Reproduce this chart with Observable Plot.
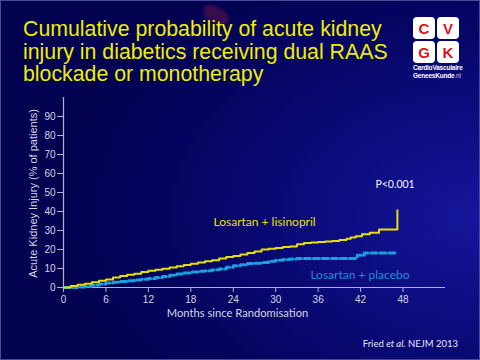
<!DOCTYPE html>
<html><head><meta charset="utf-8">
<script src="https://cdn.jsdelivr.net/npm/d3@7"></script>
<script src="https://cdn.jsdelivr.net/npm/@observablehq/plot@0.6"></script>
<style>
html,body{margin:0;padding:0;background:#020248;}
#slide{position:relative;width:480px;height:360px;overflow:hidden;
 background: radial-gradient(ellipse 90% 80% at 100% 60%, #16169c 0%, #0b0b7c 40%, #04045e 75%, #020250 100%);
 box-shadow: inset 0 0 0 1px #4a4a96;}
#chart{position:absolute;left:0;top:0;}
#title{position:absolute;left:23px;top:18px;color:#eeee00;font-family:"Liberation Sans",Arial,sans-serif;font-size:21.3px;line-height:22.5px;white-space:nowrap;}
#blob{position:absolute;left:202px;top:7px;width:28px;height:16px;border-radius:50%;background:rgba(120,25,70,0.45);transform:rotate(28deg);filter:blur(1px);}
#logo{position:absolute;left:413px;top:17px;width:46px;}
#logo .grid{display:grid;grid-template-columns:22px 22px;grid-gap:2px;}
#logo .sq{width:22px;height:22px;background:#fff;border-radius:4px;color:#e2101c;font:bold 15px "Liberation Sans",Arial,sans-serif;display:flex;align-items:center;justify-content:center;}
#logo .t{color:#fff;font:bold 6.5px "Liberation Sans",Arial,sans-serif;text-align:center;line-height:8px;white-space:nowrap;margin-top:1px;letter-spacing:-0.2px;}
#logo .t span{font-weight:normal;color:#c8c8e8;}
#cite{position:absolute;right:22px;top:338px;color:#e8e8f0;font-family:Lato,sans-serif;font-size:9.5px;white-space:nowrap;}
</style></head>
<body>
<div id="slide">
 <div id="blob"></div>
 <div id="title">Cumulative probability of acute kidney<br>injury in diabetics receiving dual RAAS<br>blockade or monotherapy</div>
 <div id="logo"><div class="grid"><div class="sq">C</div><div class="sq">V</div><div class="sq">G</div><div class="sq">K</div></div>
 <div class="t">CardioVasculaire<br>GeneesKunde<span>.nl</span></div></div>
 <div id="chart"></div>
 <div id="cite">Fried <i>et al.</i> NEJM 2013</div>
</div>
<script>
// Losartan + lisinopril (months, % of patients)
const combMonths = [0,1,2,3,4,5,6,7,8,9,10,11,12,13,14,15,16,17,18,19,20,21,22,23,24,25,26,27,28,29,30,31,32,33,34,35,36,37,38,39,40,40.6,41.3,42.2,43.3,44.6,47.2,47.2];
const combPct    = [0,0.8,1.5,2.0,2.8,3.5,4.2,5.2,6.0,6.7,7.3,8.2,8.8,9.3,9.9,10.5,11.2,11.8,12.5,13.2,13.8,14.4,15.2,16.0,16.6,17.4,18.2,19.0,20.0,20.4,20.8,21.3,21.6,22.8,23.4,23.7,24.0,24.2,24.5,25.0,25.6,26.3,27.0,28.0,28.8,30.5,30.5,40.7];
// Losartan + placebo
const monoMonths = [0,1,2,3,4,5,6,7,8,9,10,11,12,13,14,15,16,17,18,19,20,21,22,23,24,25,26,27,28,29,30,31,32,33,41,41.5,42.5,47.2];
const monoPct    = [0,0,0.2,0.5,1.2,1.8,2.4,2.8,3.2,3.6,4.0,4.4,4.7,5.2,5.8,6.5,7.1,7.6,8.1,8.5,8.8,9.3,9.8,10.6,11.4,12.0,12.6,12.8,13.2,13.8,14.4,14.7,15.0,15.3,15.3,17.0,18.2,18.2];
const xTicks = [0,6,12,18,24,30,36,42,48];
const yTicks = [0,10,20,30,40,50,60,70,80,90];
const seriesLabels = ["Losartan + lisinopril","Losartan + placebo"];
const labelMonth = [21.2, 34.9];
const labelPct = [34.4, 6.7];
const pLabel = "P<0.001";
const xTitle = "Months since Randomisation";
const yTitle = "Acute Kidney Injury (% of patients)";

const comb = combMonths.map((m,i)=>({m, p: combPct[i]}));
const mono = monoMonths.map((m,i)=>({m, p: monoPct[i]}));
const axisCol = "#b4b4c8", txtCol = "#d4d4e4";

const plot = Plot.plot({
  width: 480, height: 360,
  marginLeft: 63, marginRight: 35, marginTop: 97, marginBottom: 73,
  style: {background: "transparent", color: txtCol, fontFamily: "'Liberation Sans', Arial, sans-serif", fontSize: "10px", overflow: "visible"},
  x: {domain: [0, 54]},
  y: {domain: [0, 100]},
  marks: [
    Plot.ruleY([0], {stroke: axisCol, strokeWidth: 1.2}),
    Plot.ruleX([0], {stroke: axisCol, strokeWidth: 1.2}),
    Plot.axisX({ticks: xTicks, tickSize: 5, tickPadding: 3, stroke: axisCol, fill: txtCol, label: null, fontSize: 10}),
    Plot.axisY({ticks: yTicks, tickSize: 6, tickPadding: 2, stroke: axisCol, fill: txtCol, label: null, fontSize: 10}),
    Plot.text([xTitle], {x: () => 24.6, frameAnchor: "bottom", dy: 26, lineAnchor: "middle", textAnchor: "middle", fill: txtCol, fontFamily: "Lato, sans-serif", fontSize: 11.2}),
    Plot.text([yTitle], {y: () => 49.5, frameAnchor: "left", dx: -30, rotate: -90, textAnchor: "middle", lineAnchor: "middle", fill: txtCol, fontSize: 11}),
    Plot.line(mono, {x: "m", y: "p", curve: "step-after", stroke: "#1a9fe0", strokeWidth: 3, strokeDasharray: "6,3"}),
    Plot.line(comb, {x: "m", y: "p", curve: "step-after", stroke: "#e6e000", strokeWidth: 2}),
    Plot.text([seriesLabels[0]], {x: () => labelMonth[0], y: () => labelPct[0], textAnchor: "start", fill: "#e6e000", fontFamily: "Lato, sans-serif", fontSize: 12}),
    Plot.text([seriesLabels[1]], {x: () => labelMonth[1], y: () => labelPct[1], textAnchor: "start", fill: "#1a90d4", fontFamily: "Lato, sans-serif", fontSize: 12}),
    Plot.text([pLabel], {x: () => 44.1, y: () => 54.2, textAnchor: "start", fill: "#f4f4f8", fontFamily: "Lato, sans-serif", fontSize: 10.5})
  ]
});
document.getElementById("chart").appendChild(plot);
</script>
</body></html>
